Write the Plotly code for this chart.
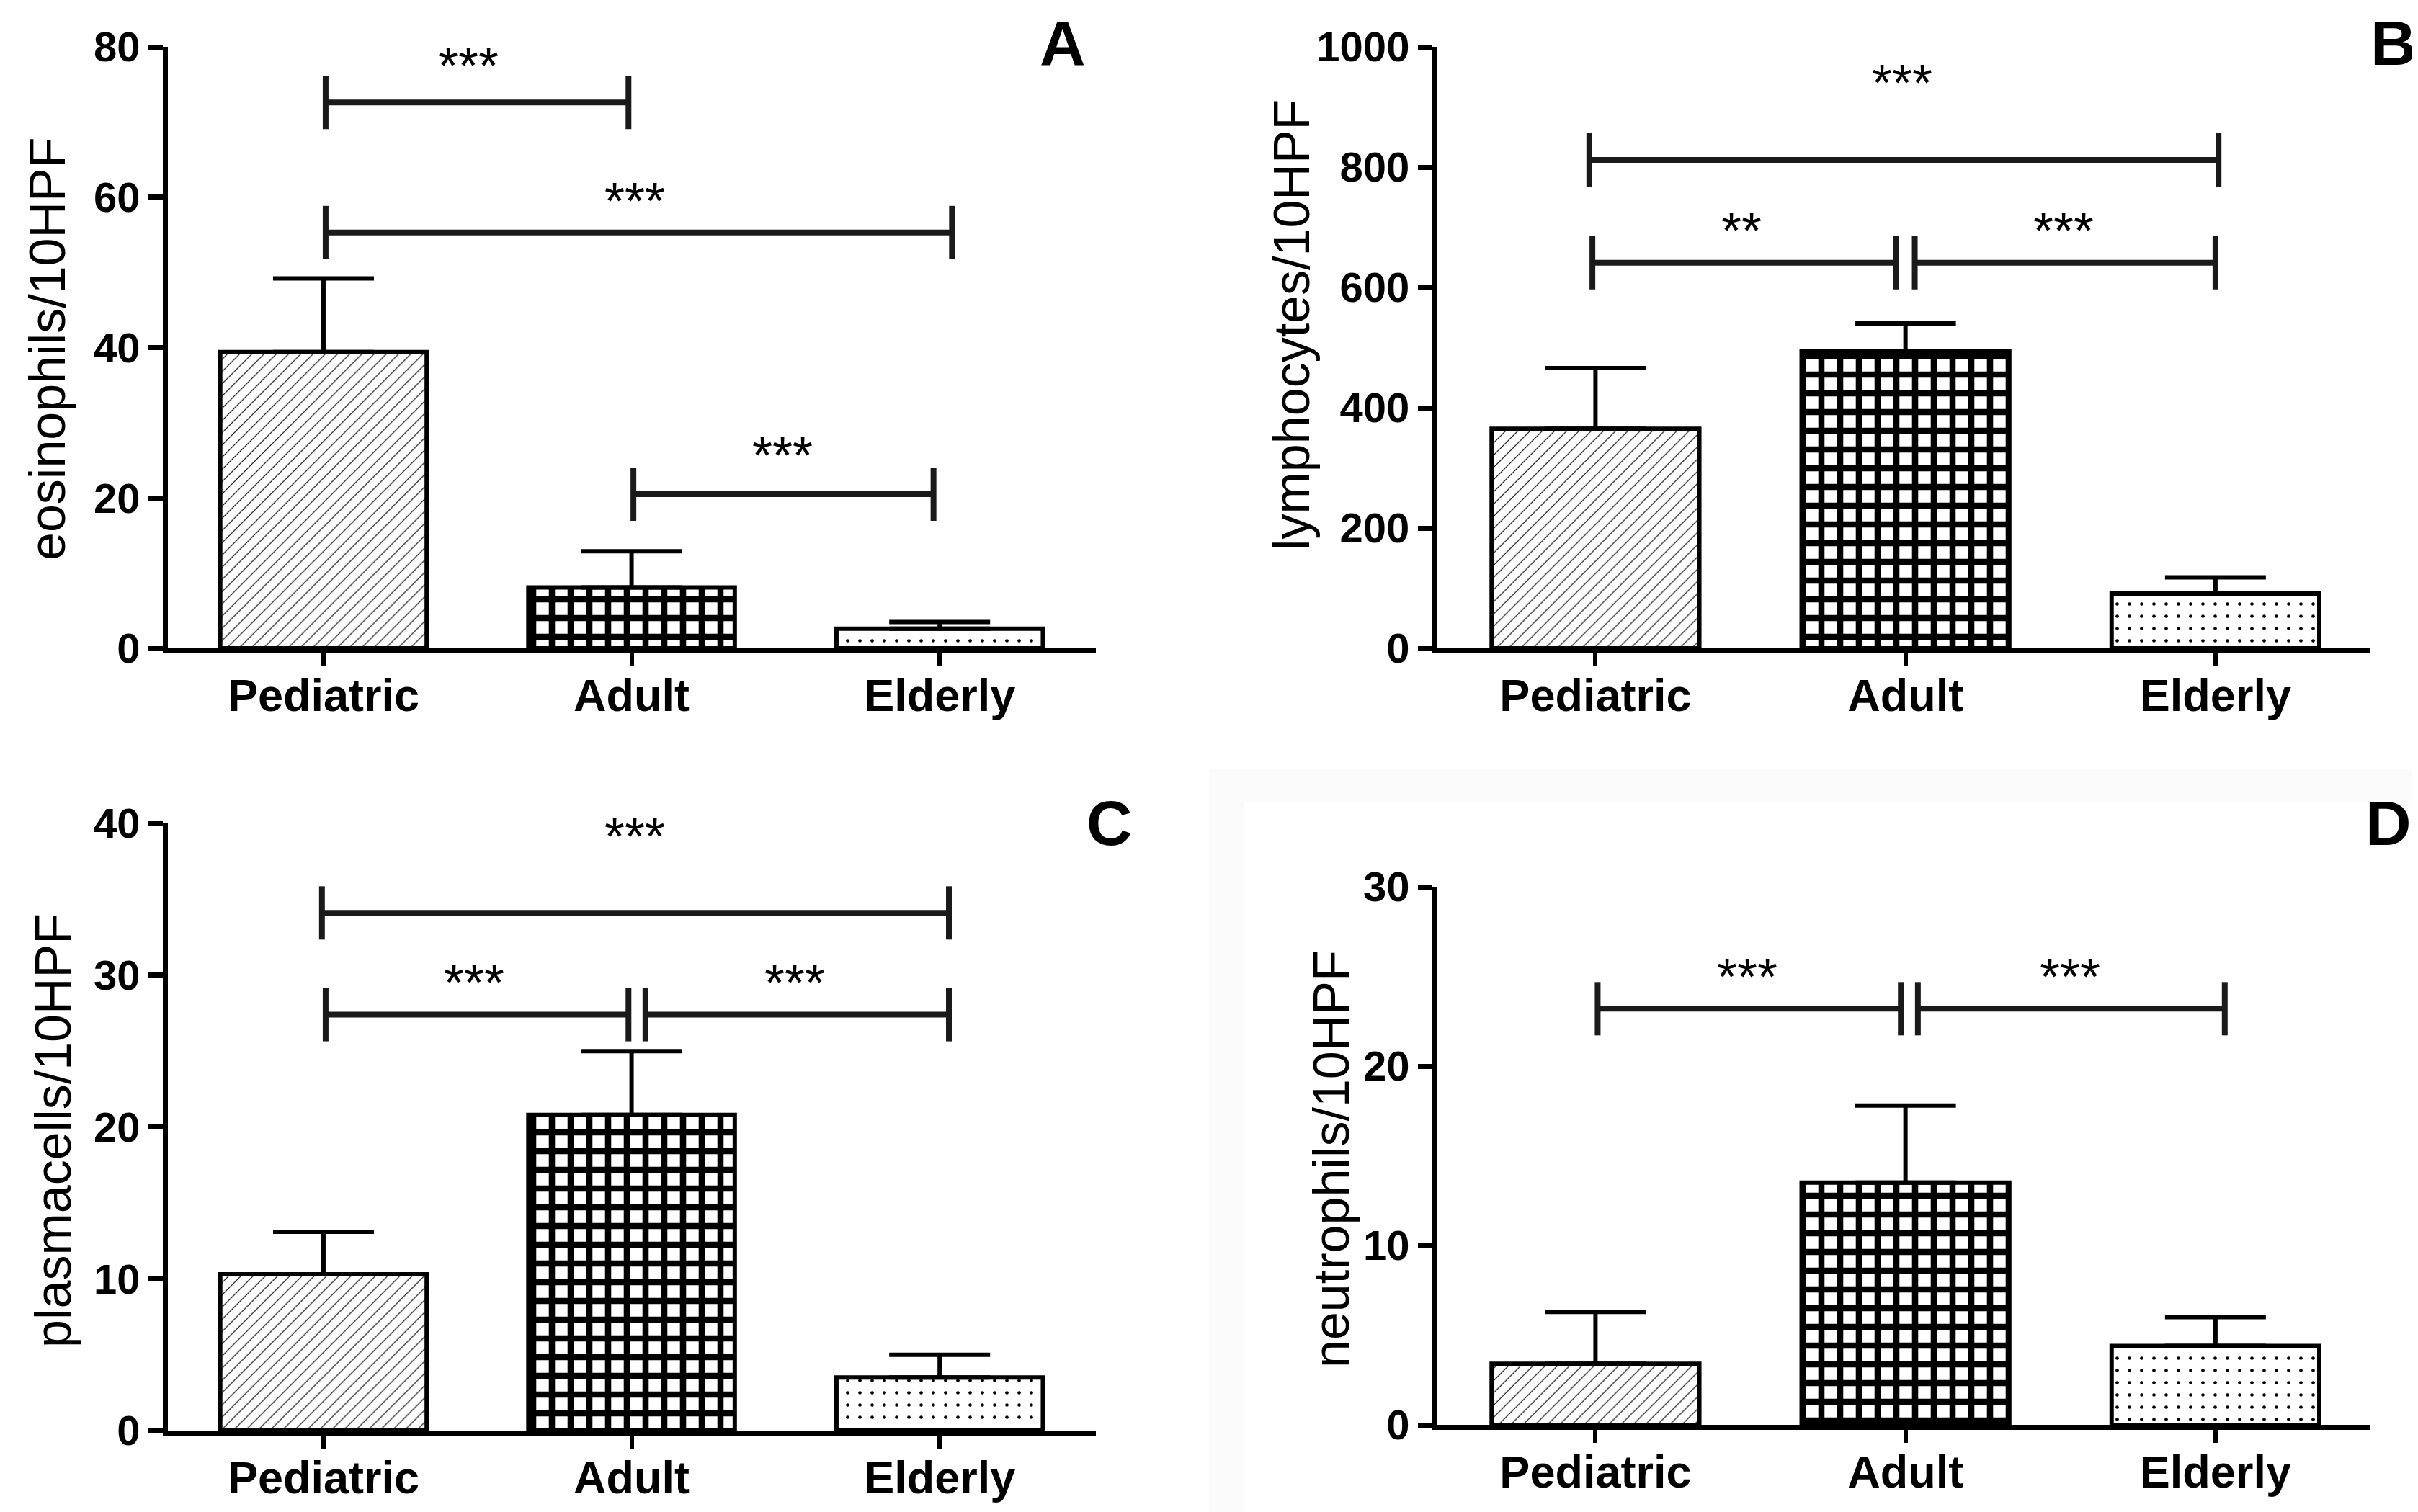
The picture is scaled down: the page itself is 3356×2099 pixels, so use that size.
import plotly.graph_objects as go

W, H = 3356, 2099
OFF = 8  # page body margin compensation

categories = ["Pediatric", "Adult", "Elderly"]

eos_mean = [39.4, 8.1, 2.6]
eos_upper = [49.2, 12.9, 3.5]
lym_mean = [365, 494, 91]
lym_upper = [466, 540, 118]
pla_mean = [10.3, 20.8, 3.5]
pla_upper = [13.1, 25.0, 5.0]
neu_mean = [3.4, 13.5, 4.4]
neu_upper = [6.3, 17.8, 6.0]

y_titles = ["eosinophils/10HPF", "lymphocytes/10HPF", "plasmacells/10HPF", "neutrophils/10HPF"]
panel_letters = ["A", "B", "C", "D"]
y_max = [80, 1000, 40, 30]
y_step = [20, 200, 10, 10]

# comparisons: (start, end, bracket level, label, label level, label position)
cmp_A = [(0.007, 0.99, 72.6, "***", 78.5, 0.47),
         (0.007, 2.04, 55.3, "***", 60.5, 1.01),
         (1.006, 1.98, 20.5, "***", 26.6, 1.49)]
cmp_B = [(-0.02, 2.01, 812, "***", 952, 0.99),
         (-0.01, 0.97, 641, "**", 707, 0.47),
         (1.03, 2.00, 641, "***", 707, 1.51)]
cmp_C = [(-0.005, 2.03, 34.1, "***", 39.6, 1.01),
         (0.007, 0.99, 27.4, "***", 30.0, 0.49),
         (1.045, 2.03, 27.4, "***", 30.0, 1.53)]
cmp_D = [(0.007, 0.985, 23.2, "***", 25.4, 0.49),
         (1.04, 2.03, 23.2, "***", 25.4, 1.53)]

means = [eos_mean, lym_mean, pla_mean, neu_mean]
uppers = [eos_upper, lym_upper, pla_upper, neu_upper]
comparisons = [cmp_A, cmp_B, cmp_C, cmp_D]

# layout (pixels)
x_doms_px = [(233, 1521), (1995, 3290), (233, 1521), (1995, 3290)]
y_doms_px = [(65, 900), (65, 900), (1143, 1986), (1231, 1978)]
x_ranges = [[-0.505, 2.507], [-0.51, 2.50], [-0.505, 2.507], [-0.51, 2.50]]
ytitle_pos = [(66, 484), (1793, 451), (74, 1570), (1848, 1609)]
letter_pos = [(1475, 59), (3322, 59), (1540, 1142), (3315, 1142)]

FONT = "Arial, Liberation Sans, sans-serif"


def px_x(v):
    return (v - OFF) / W


def px_y(v):
    return 1 - (v - OFF) / H


fig = go.Figure()

# faint grey frame around the pasted panel D
for (fx0, fy0, fx1, fy1) in [(1678, 1068, W + OFF, 1113), (1678, 1113, 1727, H + OFF)]:
    fig.add_shape(type="rect", xref="paper", yref="paper", layer="below",
                  x0=px_x(fx0), x1=px_x(fx1), y0=px_y(fy1), y1=px_y(fy0),
                  fillcolor="#fbfbfb", line=dict(width=0))

for k in range(4):
    xa = "x" if k == 0 else f"x{k+1}"
    ya = "y" if k == 0 else f"y{k+1}"
    err = [u - m for u, m in zip(uppers[k], means[k])]
    fig.add_trace(go.Bar(
        x=categories, y=means[k], xaxis=xa, yaxis=ya, width=0.67,
        marker=dict(
            color="white",
            line=dict(color="black", width=6),
            pattern=dict(shape=["/", "+", "."], fgcolor="black", bgcolor="white",
                         size=[12, 26, 17], solidity=[0.1, 0.55, 0.06], fillmode="replace"),
        ),
        error_y=dict(type="data", symmetric=False, array=err, arrayminus=[0, 0, 0],
                     width=70, thickness=6, color="black"),
        showlegend=False, hoverinfo="skip",
    ))

    x0, x1 = x_doms_px[k]
    yt, yb = y_doms_px[k]
    axis_x = dict(
        domain=[px_x(x0), px_x(x1)], anchor=ya, type="category", range=x_ranges[k],
        showline=True, linecolor="black", linewidth=7, ticks="outside", ticklen=18,
        tickwidth=6, tickcolor="black", showgrid=False, zeroline=False,
        tickfont=dict(family=FONT, size=63, color="black", weight="bold"),
        ticklabelstandoff=-14, fixedrange=True, automargin=False,
    )
    axis_y = dict(
        domain=[px_y(yb), px_y(yt)], anchor=xa, range=[0, y_max[k]],
        tickvals=list(range(0, y_max[k] + 1, y_step[k])),
        showline=True, linecolor="black", linewidth=7, ticks="outside", ticklen=20,
        tickwidth=7, tickcolor="black", showgrid=False, zeroline=False,
        tickfont=dict(family=FONT, size=58, color="black", weight="bold"),
        fixedrange=True, automargin=False,
    )
    fig.update_layout(**{("xaxis" if k == 0 else f"xaxis{k+1}"): axis_x,
                         ("yaxis" if k == 0 else f"yaxis{k+1}"): axis_y})

    plot_h = yb - yt
    half = 37 * y_max[k] / plot_h
    for (s, e, lev, lab, llev, lx) in comparisons[k]:
        line = dict(color="#1a1a1a", width=8)
        fig.add_shape(type="line", xref=xa, yref=ya, x0=s, x1=e, y0=lev, y1=lev, line=line)
        fig.add_shape(type="line", xref=xa, yref=ya, x0=s, x1=s, y0=lev - half, y1=lev + half, line=line)
        fig.add_shape(type="line", xref=xa, yref=ya, x0=e, x1=e, y0=lev - half, y1=lev + half, line=line)
        fig.add_annotation(xref=xa, yref=ya, x=lx, y=llev, text=lab, showarrow=False,
                           yshift=-10, font=dict(family=FONT, size=72, color="black"))

    tx, ty = ytitle_pos[k]
    fig.add_annotation(xref="paper", yref="paper", x=px_x(tx), y=px_y(ty), text=y_titles[k],
                       textangle=-90, showarrow=False, xanchor="center", yanchor="middle",
                       font=dict(family=FONT, size=70, color="black"))
    lx_, ly_ = letter_pos[k]
    fig.add_annotation(xref="paper", yref="paper", x=px_x(lx_), y=px_y(ly_), text=panel_letters[k],
                       showarrow=False, xanchor="center", yanchor="middle",
                       font=dict(family=FONT, size=88, color="black", weight="bold"))

fig.update_layout(width=W, height=H, margin=dict(l=0, r=0, t=0, b=0, autoexpand=False),
                  paper_bgcolor="white", plot_bgcolor="rgba(0,0,0,0)", bargap=0.33)

fig.write_html("out.html")
